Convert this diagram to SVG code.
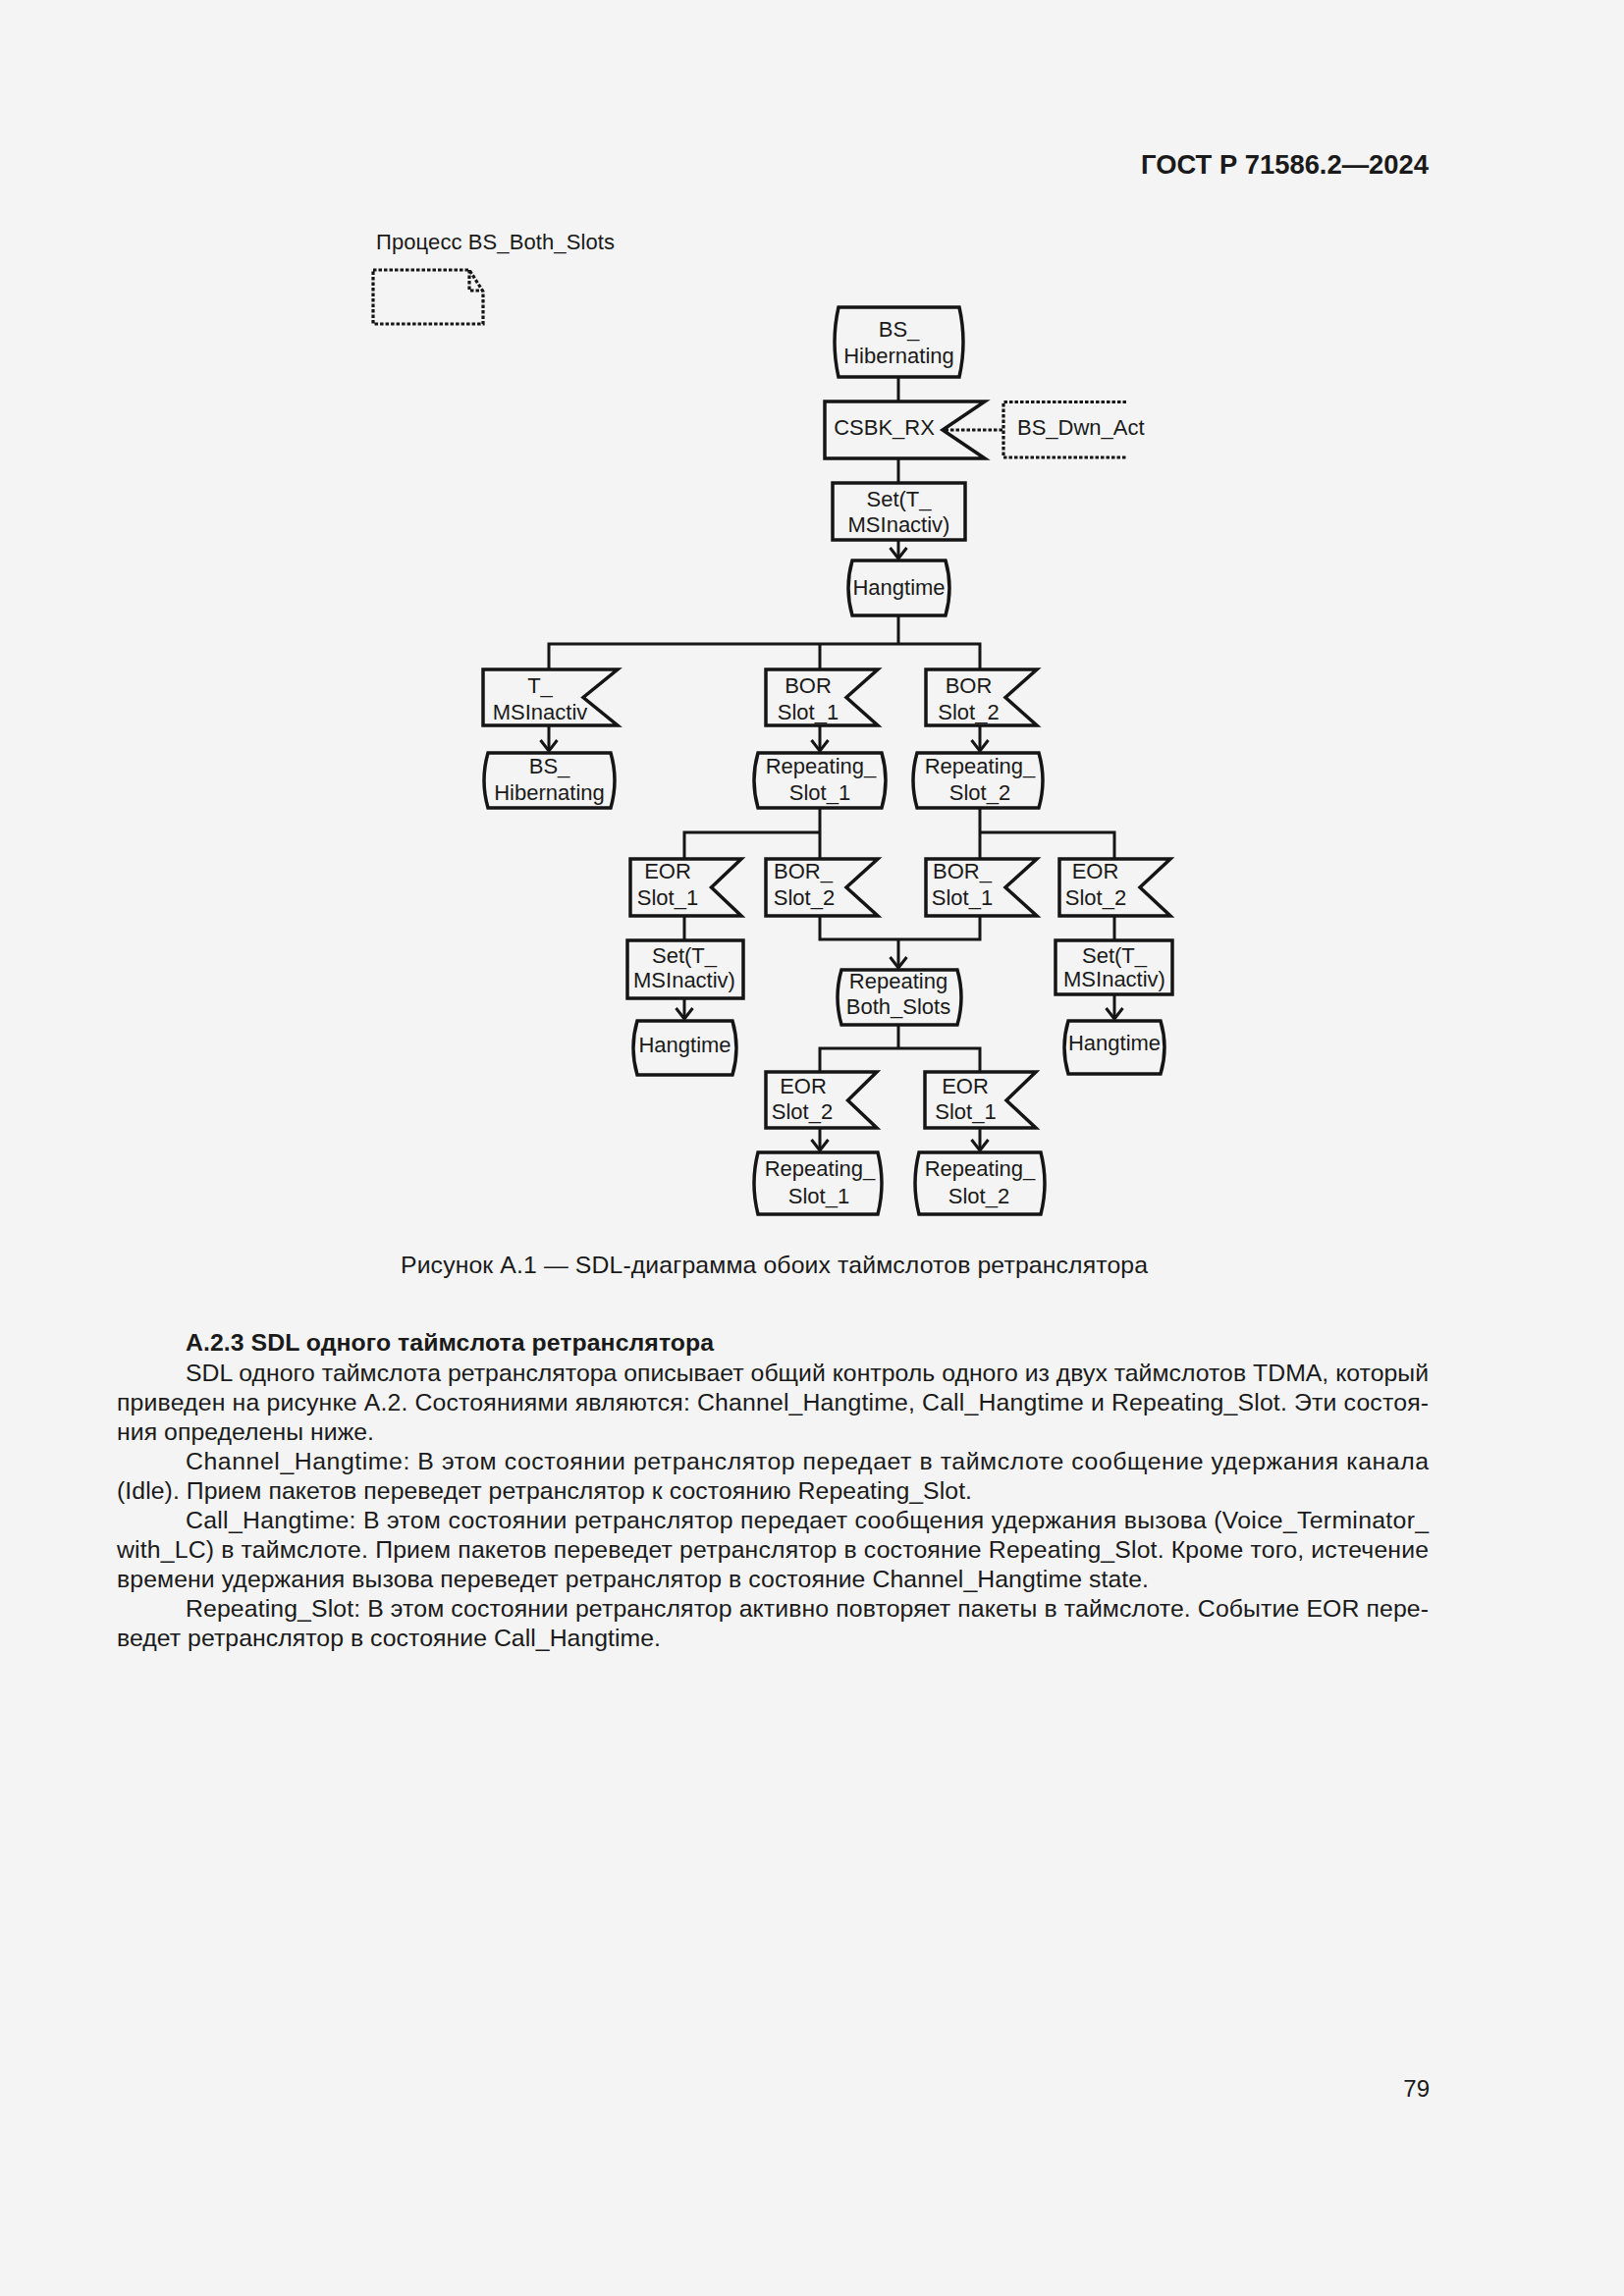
<svg xmlns="http://www.w3.org/2000/svg" width="1654" height="2339" viewBox="0 0 1654 2339">
<defs>
<style>
.t{font-family:"Liberation Sans",Arial,sans-serif;fill:#1a1a1a}
.d{font-size:22px;text-anchor:middle}
.ds{font-size:22px}
.b{font-size:24.8px}
.bb{font-size:24.8px;font-weight:bold}
.sh{fill:none;stroke:#151515;stroke-width:3.5;stroke-linejoin:miter}
.c{fill:none;stroke:#151515;stroke-width:3}
.dot{fill:none;stroke:#151515;stroke-width:3.2;stroke-dasharray:3.5 2}
</style>
<marker id="arr" viewBox="-14 -12 16 24" refX="0" refY="0" markerWidth="16" markerHeight="24" markerUnits="userSpaceOnUse" orient="auto">
<path d="M-11,-8.5 L0,0 L-11,8.5" fill="none" stroke="#151515" stroke-width="3"/>
</marker>
</defs>
<rect x="0" y="0" width="1654" height="2339" fill="#f4f4f4"/>

<text class="t bb" x="1162" y="177" style="font-size:27px" textLength="293" lengthAdjust="spacingAndGlyphs">ГОСТ Р 71586.2—2024</text>

<g id="process-title">
<text class="t ds" x="383" y="254" textLength="243" lengthAdjust="spacing">Процесс BS_Both_Slots</text>
<path class="dot" d="M380,275 H478 L492,297 V330 H380 Z"/>
<path class="dot" d="M478,275 V296 H492"/>
</g>

<g id="connectors">
<line class="c" x1="915" y1="384" x2="915" y2="409"/>
<line class="c" x1="915" y1="467" x2="915" y2="492"/>
<line class="c" x1="915" y1="550" x2="915" y2="569" marker-end="url(#arr)"/>
<line class="c" x1="915" y1="627" x2="915" y2="656"/>
<polyline class="c" points="559,682 559,656 998,656 998,682"/>
<line class="c" x1="835" y1="656" x2="835" y2="682"/>
<line class="c" x1="559" y1="739" x2="559" y2="765" marker-end="url(#arr)"/>
<line class="c" x1="835" y1="739" x2="835" y2="765" marker-end="url(#arr)"/>
<line class="c" x1="998" y1="739" x2="998" y2="765" marker-end="url(#arr)"/>
<polyline class="c" points="697,875 697,848 835,848"/>
<line class="c" x1="835" y1="823" x2="835" y2="875"/>
<polyline class="c" points="1135,875 1135,848 998,848"/>
<line class="c" x1="998" y1="823" x2="998" y2="875"/>
<line class="c" x1="697" y1="933" x2="697" y2="958"/>
<line class="c" x1="697" y1="1017" x2="697" y2="1038" marker-end="url(#arr)"/>
<polyline class="c" points="835,933 835,957 998,957 998,933"/>
<line class="c" x1="915" y1="957" x2="915" y2="986" marker-end="url(#arr)"/>
<line class="c" x1="1135" y1="933" x2="1135" y2="958"/>
<line class="c" x1="1135" y1="1013" x2="1135" y2="1038" marker-end="url(#arr)"/>
<line class="c" x1="915" y1="1044" x2="915" y2="1068"/>
<polyline class="c" points="835,1092 835,1068 998,1068 998,1092"/>
<line class="c" x1="835" y1="1149" x2="835" y2="1172" marker-end="url(#arr)"/>
<line class="c" x1="998" y1="1149" x2="998" y2="1172" marker-end="url(#arr)"/>
<line class="dot" x1="1021" y1="438" x2="962" y2="438" stroke-width="2.6"/>
</g>

<g id="bs-hibernating-top">
<path class="sh" d="M854,313 H977 Q985,348.5 977,384 H854 Q846,348.5 854,313 Z"/>
<text class="t d" x="915.5" y="343">BS_</text>
<text class="t d" x="915.5" y="370">Hibernating</text>
</g>

<g id="csbk-rx">
<path class="sh" d="M840,409 H1003 L960,438 L1003,467 H840 Z"/>
<text class="t d" x="900.5" y="443">CSBK_RX</text>
</g>

<g id="bs-dwn-act">
<path class="dot" d="M1147,409.5 H1022 V466 H1147"/>
<text class="t ds" x="1036" y="443">BS_Dwn_Act</text>
</g>

<g id="set-top">
<rect class="sh" x="848" y="492" width="135" height="58"/>
<text class="t d" x="915.5" y="516">Set(T_</text>
<text class="t d" x="915.5" y="542">MSInactiv)</text>
</g>

<g id="hangtime-top">
<path class="sh" d="M868,571 H963 Q971,599 963,627 H868 Q860,599 868,571 Z"/>
<text class="t d" x="915.5" y="606">Hangtime</text>
</g>

<g id="t-msinactiv">
<path class="sh" d="M492,682 H629 L594,710.5 L629,739 H492 Z"/>
<text class="t d" x="550" y="706">T_</text>
<text class="t d" x="550" y="733">MSInactiv</text>
</g>

<g id="bor-slot1-a">
<path class="sh" d="M780,682 H894 L862,710.5 L894,739 H780 Z"/>
<text class="t d" x="823" y="706">BOR</text>
<text class="t d" x="823" y="733">Slot_1</text>
</g>

<g id="bor-slot2-a">
<path class="sh" d="M943,682 H1056 L1024,710.5 L1056,739 H943 Z"/>
<text class="t d" x="986.5" y="706">BOR</text>
<text class="t d" x="986.5" y="733">Slot_2</text>
</g>

<g id="bs-hibernating-left">
<path class="sh" d="M497,767 H622 Q630,795 622,823 H497 Q489,795 497,767 Z"/>
<text class="t d" x="559.5" y="788">BS_</text>
<text class="t d" x="559.5" y="815">Hibernating</text>
</g>

<g id="repeating-slot1-a">
<path class="sh" d="M772,767 H898 Q906,795 898,823 H772 Q764,795 772,767 Z"/>
<text class="t d" x="836" y="788">Repeating_</text>
<text class="t d" x="835" y="815">Slot_1</text>
</g>

<g id="repeating-slot2-a">
<path class="sh" d="M934,767 H1058 Q1066,795 1058,823 H934 Q926,795 934,767 Z"/>
<text class="t d" x="998" y="788">Repeating_</text>
<text class="t d" x="998" y="815">Slot_2</text>
</g>

<g id="eor-slot1-a">
<path class="sh" d="M642,875 H755 L724.5,904 L755,933 H642 Z"/>
<text class="t d" x="680" y="895">EOR</text>
<text class="t d" x="680" y="922">Slot_1</text>
</g>

<g id="bor-slot2-b">
<path class="sh" d="M780,875 H894 L862,904 L894,933 H780 Z"/>
<text class="t d" x="818" y="895">BOR_</text>
<text class="t d" x="819" y="922">Slot_2</text>
</g>

<g id="bor-slot1-b">
<path class="sh" d="M943,875 H1056 L1024,904 L1056,933 H943 Z"/>
<text class="t d" x="980" y="895">BOR_</text>
<text class="t d" x="980" y="922">Slot_1</text>
</g>

<g id="eor-slot2-a">
<path class="sh" d="M1079,875 H1192 L1161,904 L1192,933 H1079 Z"/>
<text class="t d" x="1115.5" y="895">EOR</text>
<text class="t d" x="1116" y="922">Slot_2</text>
</g>

<g id="set-left">
<rect class="sh" x="639" y="958" width="118" height="59"/>
<text class="t d" x="697" y="981">Set(T_</text>
<text class="t d" x="697" y="1006">MSInactiv)</text>
</g>

<g id="set-right">
<rect class="sh" x="1075" y="958" width="119" height="55"/>
<text class="t d" x="1135" y="981">Set(T_</text>
<text class="t d" x="1135" y="1005">MSInactiv)</text>
</g>

<g id="repeating-both-slots">
<path class="sh" d="M857,988 H975 Q983,1016 975,1044 H857 Q849,1016 857,988 Z"/>
<text class="t d" x="915" y="1007">Repeating</text>
<text class="t d" x="915" y="1033">Both_Slots</text>
</g>

<g id="hangtime-left">
<path class="sh" d="M649,1040 H746 Q754,1067.5 746,1095 H649 Q641,1067.5 649,1040 Z"/>
<text class="t d" x="697.5" y="1072">Hangtime</text>
</g>

<g id="hangtime-right">
<path class="sh" d="M1088,1040 H1182 Q1190,1067 1182,1094 H1088 Q1080,1067 1088,1040 Z"/>
<text class="t d" x="1135" y="1070">Hangtime</text>
</g>

<g id="eor-slot2-b">
<path class="sh" d="M780,1092 H893 L863.5,1121 L893,1149 H780 Z"/>
<text class="t d" x="818" y="1114">EOR</text>
<text class="t d" x="817" y="1140">Slot_2</text>
</g>

<g id="eor-slot1-b">
<path class="sh" d="M942,1092 H1055 L1025,1121 L1055,1149 H942 Z"/>
<text class="t d" x="983" y="1114">EOR</text>
<text class="t d" x="983.5" y="1140">Slot_1</text>
</g>

<g id="repeating-slot1-b">
<path class="sh" d="M772,1174 H894 Q902,1205.5 894,1237 H772 Q764,1205.5 772,1174 Z"/>
<text class="t d" x="835" y="1198">Repeating_</text>
<text class="t d" x="834" y="1226">Slot_1</text>
</g>

<g id="repeating-slot2-b">
<path class="sh" d="M936,1174 H1060 Q1068,1205.5 1060,1237 H936 Q928,1205.5 936,1174 Z"/>
<text class="t d" x="998" y="1198">Repeating_</text>
<text class="t d" x="997" y="1226">Slot_2</text>
</g>

<text class="t b" x="408" y="1297" textLength="761" lengthAdjust="spacing">Рисунок А.1 — SDL-диаграмма обоих таймслотов ретранслятора</text>

<g id="body-text">
<text class="t bb" x="189" y="1376" textLength="538" lengthAdjust="spacing">А.2.3 SDL одного таймслота ретранслятора</text>
<text class="t b" x="189" y="1407" textLength="1266" lengthAdjust="spacing">SDL одного таймслота ретранслятора описывает общий контроль одного из двух таймслотов TDMA, который</text>
<text class="t b" x="119" y="1437" textLength="1336" lengthAdjust="spacing">приведен на рисунке А.2. Состояниями являются: Channel_Hangtime, Call_Hangtime и Repeating_Slot. Эти состоя-</text>
<text class="t b" x="119" y="1467" textLength="262" lengthAdjust="spacing">ния определены ниже.</text>
<text class="t b" x="189" y="1497" textLength="1266" lengthAdjust="spacing">Channel_Hangtime: В этом состоянии ретранслятор передает в таймслоте сообщение удержания канала</text>
<text class="t b" x="119" y="1527" textLength="871" lengthAdjust="spacing">(Idle). Прием пакетов переведет ретранслятор к состоянию Repeating_Slot.</text>
<text class="t b" x="189" y="1557" textLength="1266" lengthAdjust="spacing">Call_Hangtime: В этом состоянии ретранслятор передает сообщения удержания вызова (Voice_Terminator_</text>
<text class="t b" x="119" y="1587" textLength="1336" lengthAdjust="spacing">with_LC) в таймслоте. Прием пакетов переведет ретранслятор в состояние Repeating_Slot. Кроме того, истечение</text>
<text class="t b" x="119" y="1617" textLength="1051" lengthAdjust="spacing">времени удержания вызова переведет ретранслятор в состояние Channel_Hangtime state.</text>
<text class="t b" x="189" y="1647" textLength="1266" lengthAdjust="spacing">Repeating_Slot: В этом состоянии ретранслятор активно повторяет пакеты в таймслоте. Событие EOR пере-</text>
<text class="t b" x="119" y="1677" textLength="554" lengthAdjust="spacing">ведет ретранслятор в состояние Call_Hangtime.</text>
</g>

<text class="t" x="1456" y="2136" style="font-size:24px" text-anchor="end">79</text>
</svg>
